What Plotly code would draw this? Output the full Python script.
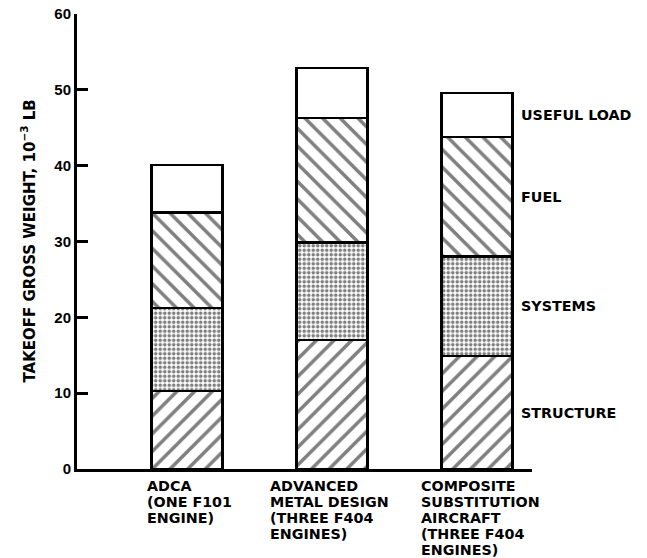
import plotly.graph_objects as go

# Data (thousands of lb)
categories = ["ADCA", "AMD", "CSA"]
category_label_lines = [
    ["ADCA", "(ONE F101", "ENGINE)"],
    ["ADVANCED", "METAL DESIGN", "(THREE F404", "ENGINES)"],
    ["COMPOSITE", "SUBSTITUTION", "AIRCRAFT", "(THREE F404", "ENGINES)"],
]
segment_names = ["STRUCTURE", "SYSTEMS", "FUEL", "USEFUL LOAD"]
structure = [10.3, 17.0, 14.9]
systems = [10.9, 12.9, 13.1]
fuel = [12.6, 16.4, 15.8]
useful_load = [6.3, 6.6, 5.8]
y_ticks = [0, 10, 20, 30, 40, 50, 60]

series = [structure, systems, fuel, useful_load]
patterns = [
    dict(shape="/", size=12.5, solidity=0.28, fgcolor="black", bgcolor="white"),
    dict(shape=".", size=4.5, solidity=0.5, fgcolor="black", bgcolor="white"),
    dict(shape="\\", size=12.5, solidity=0.28, fgcolor="black", bgcolor="white"),
    dict(shape="", fgcolor="black", bgcolor="white"),
]

LABEL_FONT = "DejaVu Sans"
TICK_FONT = "Liberation Sans"
BAR_W = 0.49
LINE_PITCH = 16
label_left_shift = [-42, -64, -58]   # px from bar centre to the left of each label block
xpos = list(range(len(categories)))

fig = go.Figure()
for name, vals, pat in zip(segment_names, series, patterns):
    fig.add_trace(go.Bar(
        x=xpos, y=vals, name=name, width=BAR_W,
        marker=dict(color="white", line=dict(color="black", width=2.5), pattern=pat),
        showlegend=False,
    ))

lab_font = dict(family=LABEL_FONT, size=14.3, color="black", weight="bold")

# category labels under bars (one annotation per line for tight line pitch)
for i, lines in enumerate(category_label_lines):
    for k, line in enumerate(lines):
        fig.add_annotation(
            x=i, y=0, xref="x", yref="y", text=line, showarrow=False,
            xanchor="left", yanchor="top", xshift=label_left_shift[i],
            yshift=-7 - LINE_PITCH * k, font=lab_font,
        )

# segment labels to the right of the last bar
last = len(categories) - 1
base = 0
for name, vals in zip(segment_names, series):
    mid = base + vals[last] / 2
    base += vals[last]
    fig.add_annotation(
        x=last + BAR_W / 2, y=mid, xref="x", yref="y", text=name, showarrow=False,
        xanchor="left", yanchor="middle", xshift=7, font=lab_font,
    )

# y-axis title
fig.add_annotation(
    x=0, y=0.5, xref="paper", yref="paper", xshift=-49, textangle=-90,
    text="TAKEOFF GROSS WEIGHT, 10<sup>\u22123</sup> LB", showarrow=False,
    xanchor="center", yanchor="middle",
    font=dict(family=LABEL_FONT, size=15, color="black", weight="bold"),
)

fig.update_layout(
    barmode="stack",
    width=647, height=558,
    margin=dict(l=77, r=115, t=14, b=89, autoexpand=False),
    paper_bgcolor="white", plot_bgcolor="white",
    font=dict(family=TICK_FONT, color="black"),
    xaxis=dict(
        range=[-0.76, 2.38], showticklabels=False, ticks="", automargin=False,
        showgrid=False, zeroline=False, showline=True, linecolor="black", linewidth=3,
    ),
    yaxis=dict(
        range=[0, 60], tickvals=y_ticks, ticks="inside", ticklen=11, tickwidth=3,
        tickcolor="black", showgrid=False, zeroline=False, showline=True,
        linecolor="black", linewidth=3, automargin=False,
        tickfont=dict(family=TICK_FONT, size=15, color="black", weight="bold"),
    ),
)

fig.write_html("out.html", config={"displayModeBar": False},
               post_script="document.body.style.margin='0';")
